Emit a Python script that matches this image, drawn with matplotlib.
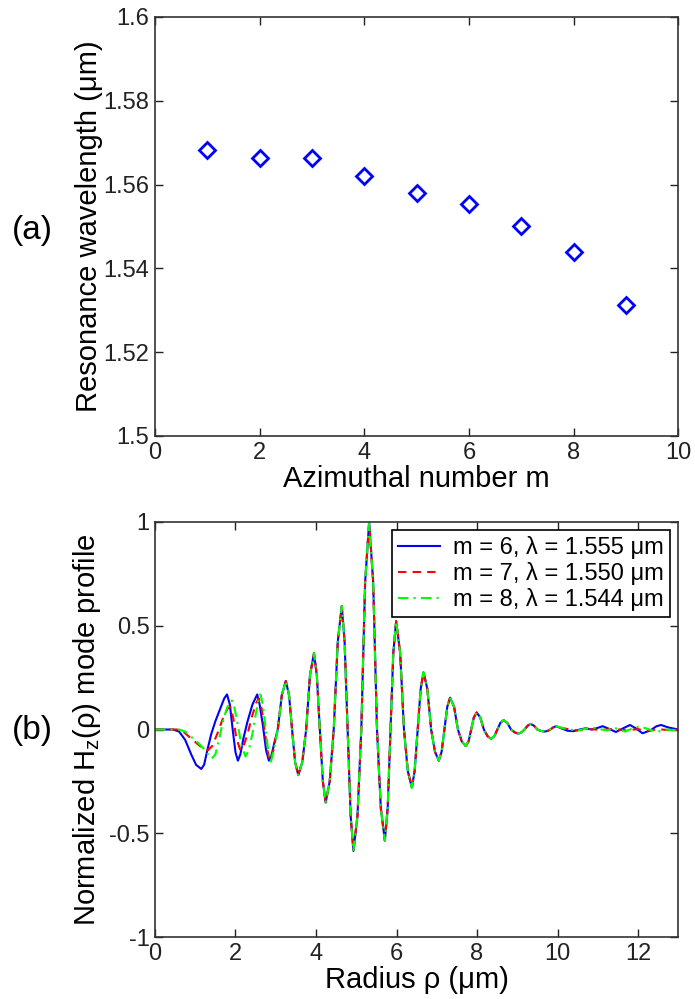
import matplotlib
matplotlib.use('Agg')
import matplotlib.pyplot as plt

plt.rcParams['font.family'] = ['Liberation Sans', 'DejaVu Sans']
plt.rcParams['axes.unicode_minus'] = False
plt.rcParams['mathtext.fontset'] = 'custom'
plt.rcParams['mathtext.rm'] = 'Liberation Sans'
plt.rcParams['mathtext.it'] = 'Liberation Sans:italic'

# (a) resonance wavelength vs azimuthal number
m_values = [1, 2, 3, 4, 5, 6, 7, 8, 9]
res_wavelength = [1.5682, 1.5663, 1.5663, 1.5620, 1.5580, 1.5553, 1.5500, 1.5440, 1.5313]

# (b) Hz mode profiles
# the three curves overlap between rho ~3 and ~10
rho_shared = [3.15, 3.25, 3.33, 3.405, 3.48, 3.56, 3.66, 3.755, 3.85, 3.95,
              4.02, 4.095, 4.17, 4.24, 4.34, 4.44, 4.54, 4.64, 4.71, 4.785,
              4.86, 4.93, 5.03, 5.125, 5.22, 5.32, 5.42, 5.515, 5.61, 5.71,
              5.78, 5.85, 5.92, 5.99, 6.09, 6.185, 6.28, 6.38, 6.45, 6.525,
              6.6, 6.67, 6.765, 6.86, 6.955, 7.05, 7.12, 7.19, 7.26, 7.33,
              7.43, 7.525, 7.62, 7.72, 7.79, 7.855, 7.92, 7.99, 8.08, 8.17,
              8.26, 8.35, 8.43, 8.505, 8.58, 8.66, 8.75, 8.845, 8.94, 9.03,
              9.1, 9.18, 9.26, 9.33, 9.41, 9.5, 9.59, 9.67, 9.75, 9.82,
              9.9, 9.97]
hz_shared = [0.165, 0.234, 0.166, 0.0, -0.156, -0.22, -0.156, 0.0, 0.261, 0.368,
             0.261, 0.0, -0.25, -0.352, -0.25, 0.0, 0.422, 0.595, 0.422, 0.0,
             -0.415, -0.585, -0.415, 0.0, 0.71, 1.0, 0.71, 0.0, -0.38, -0.535,
             -0.38, 0.0, 0.37, 0.522, 0.37, 0.0, -0.2, -0.28, -0.2, 0.0,
             0.196, 0.276, 0.196, 0.0, -0.107, -0.15, -0.107, 0.0, 0.109, 0.153,
             0.109, 0.0, -0.057, -0.08, -0.057, 0.0, 0.058, 0.082, 0.058, 0.0,
             -0.032, -0.045, -0.032, 0.0, 0.032, 0.045, 0.032, 0.0, -0.014, -0.02,
             -0.014, 0.0, 0.019, 0.027, 0.019, 0.0, -0.007, -0.01, -0.007, 0.0,
             0.011, 0.016]

rho_m6_head = [0.0, 0.45, 0.6, 0.75, 0.9, 1.02, 1.15, 1.22, 1.3, 1.4, 1.5, 1.62,
               1.72, 1.79, 1.86, 1.93, 2.0, 2.06, 2.12, 2.2, 2.3, 2.42, 2.54,
               2.6, 2.68, 2.76, 2.83, 2.9, 2.97, 3.05]
hz_m6_head = [0.0, 0.0, -0.01, -0.05, -0.12, -0.17, -0.19, -0.17, -0.1, -0.02, 0.04, 0.1,
              0.15, 0.169, 0.12, 0.0, -0.11, -0.15, -0.12, -0.04, 0.04, 0.12, 0.169,
              0.12, 0.02, -0.1, -0.15, -0.12, -0.06, 0.0]
rho_m6_tail = [10.1, 10.25, 10.4, 10.55, 10.7, 10.85, 11.0, 11.12, 11.28, 11.45,
               11.62, 11.8, 11.95, 12.11, 12.3, 12.45, 12.57, 12.75, 13.0]
hz_m6_tail = [0.005, -0.006, -0.008, 0.0, 0.006, 0.0, 0.008, 0.016, 0.003, -0.012,
              0.005, 0.022, 0.005, -0.018, -0.005, 0.015, 0.022, 0.01, 0.0]

rho_m7_head = [0.0, 0.55, 0.7, 0.85, 1.0, 1.15, 1.31, 1.42, 1.55, 1.68, 1.8, 1.87,
               1.94, 2.02, 2.12, 2.2, 2.3, 2.42, 2.52, 2.58, 2.65, 2.72, 2.79,
               2.86, 2.93, 2.99, 3.05]
hz_m7_head = [0.0, 0.0, -0.01, -0.035, -0.06, -0.085, -0.1, -0.08, -0.02, 0.05, 0.1, 0.11,
              0.06, -0.04, -0.1, -0.08, -0.02, 0.07, 0.13, 0.15, 0.1, 0.0, -0.1,
              -0.15, -0.11, -0.05, 0.0]
rho_m7_tail = [10.1, 10.3, 10.5, 10.8, 11.1, 11.4, 11.7, 12.0, 12.2, 12.5, 12.8, 13.0]
hz_m7_tail = [0.008, 0.0, -0.004, 0.002, -0.002, 0.003, -0.004, 0.002, -0.008, 0.002, -0.004, 0.0]

rho_m8_head = [0.0, 0.6, 0.75, 0.9, 1.05, 1.2, 1.32, 1.41, 1.5, 1.6, 1.7, 1.8, 1.91,
               1.98, 2.06, 2.15, 2.25, 2.33, 2.42, 2.5, 2.57, 2.62, 2.68, 2.74,
               2.81, 2.88, 2.94, 3.0, 3.05]
hz_m8_head = [0.0, 0.0, -0.01, -0.035, -0.06, -0.09, -0.12, -0.14, -0.12, -0.04, 0.05, 0.11, 0.14,
              0.1, 0.02, -0.08, -0.13, -0.1, -0.02, 0.07, 0.14, 0.169, 0.12, 0.02,
              -0.1, -0.155, -0.11, -0.05, 0.0]
rho_m8_tail = [10.1, 10.3, 10.5, 10.7, 10.9, 11.1, 11.25, 11.37, 11.52, 11.67,
               11.85, 12.04, 12.25, 12.46, 12.7, 13.0]
hz_m8_tail = [0.008, 0.0, -0.005, 0.004, 0.008, 0.0, -0.004, 0.01, 0.002, -0.01,
              0.004, 0.016, 0.002, -0.012, 0.0, -0.004]

labels = ['m = 6, \u03bb = 1.555 \u03bcm',
          'm = 7, \u03bb = 1.550 \u03bcm',
          'm = 8, \u03bb = 1.544 \u03bcm']

TICK_FS = 17
LABEL_FS = 21


def style_axes(ax):
    ax.tick_params(direction='in', top=True, right=True, length=6, width=1,
                   labelsize=TICK_FS, colors='#222222', pad=4)
    for s in ax.spines.values():
        s.set_linewidth(1.2)
        s.set_color('#333333')


fig = plt.figure(figsize=(6.95, 9.99), dpi=100)

# panel (a)
ax1 = fig.add_axes([0.223, 0.5636, 0.753, 0.4194])
ax1.plot(m_values, res_wavelength, linestyle='none', marker='D', markersize=8,
         markerfacecolor='none', markeredgecolor='#0000ff', markeredgewidth=2)
ax1.set_xlim(0, 10)
ax1.set_ylim(1.5, 1.6)
ax1.set_xticks([0, 2, 4, 6, 8, 10])
ax1.set_yticks([1.5, 1.52, 1.54, 1.56, 1.58, 1.6])
ax1.set_yticklabels(['1.5', '1.52', '1.54', '1.56', '1.58', '1.6'])
ax1.set_xlabel('Azimuthal number m', fontsize=LABEL_FS, labelpad=1)
ax1.set_ylabel('Resonance wavelength (\u03bcm)', fontsize=LABEL_FS)
ax1.yaxis.set_label_coords(-0.1, 0.5)
style_axes(ax1)

# panel (b)
ax2 = fig.add_axes([0.223, 0.062, 0.753, 0.4155])
rho_m6 = rho_m6_head + rho_shared + rho_m6_tail
hz_m6 = hz_m6_head + hz_shared + hz_m6_tail
rho_m7 = rho_m7_head + rho_shared + rho_m7_tail
hz_m7 = hz_m7_head + hz_shared + hz_m7_tail
rho_m8 = rho_m8_head + rho_shared + rho_m8_tail
hz_m8 = hz_m8_head + hz_shared + hz_m8_tail

ax2.plot(rho_m6, hz_m6, '-', color='#0000ff', linewidth=1.5, label=labels[0])
ax2.plot(rho_m7, hz_m7, '--', color='#ff0000', linewidth=1.5, label=labels[1],
         dashes=(4, 3))
ax2.plot(rho_m8, hz_m8, '-.', color='#00ff00', linewidth=1.5, label=labels[2],
         dashes=(5, 2.5, 1, 2.5))
ax2.set_xlim(0, 13)
ax2.set_ylim(-1, 1)
ax2.set_xticks([0, 2, 4, 6, 8, 10, 12])
ax2.set_yticks([-1, -0.5, 0, 0.5, 1])
ax2.set_yticklabels(['-1', '-0.5', '0', '0.5', '1'])
ax2.set_xlabel('Radius \u03c1 (\u03bcm)', fontsize=LABEL_FS, labelpad=1)
ax2.set_ylabel('Normalized H$_\\mathregular{z}$(\u03c1) mode profile', fontsize=LABEL_FS)
ax2.yaxis.set_label_coords(-0.1, 0.5)
style_axes(ax2)

leg = ax2.legend(loc='upper right', fontsize=17, fancybox=False, framealpha=1,
                 edgecolor='black', handlelength=1.8, handletextpad=0.55,
                 labelspacing=0.12, borderpad=0.25, borderaxespad=0.35)
leg.get_frame().set_linewidth(1.2)

fig.text(0.046, 1 - 230 / 999, '(a)', fontsize=24, va='center', ha='center')
fig.text(0.046, 1 - 730 / 999, '(b)', fontsize=24, va='center', ha='center')

fig.savefig('out.png', dpi=100)
